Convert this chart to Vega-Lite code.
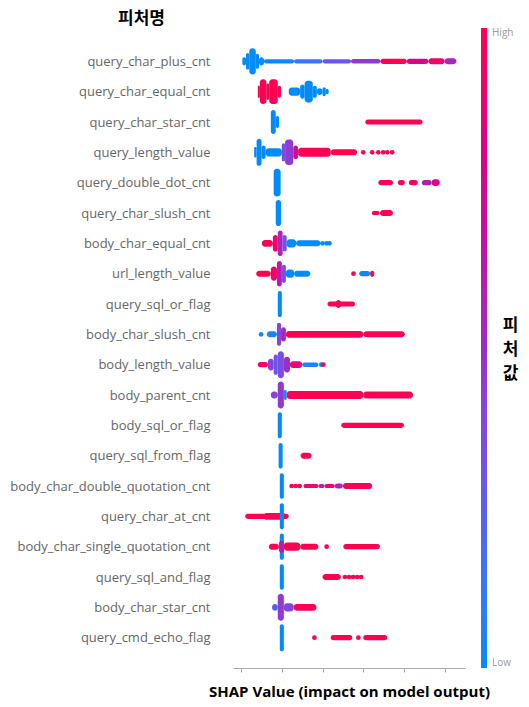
{
  "$schema": "https://vega.github.io/schema/vega-lite/v6.json",
  "autosize": {"type": "none"},
  "padding": {"left": 233, "top": 31, "right": 64, "bottom": 39},
  "width": 232,
  "height": 637,
  "datasets": {
    "seg": [
      {"feature":"query_char_plus_cnt","lo":-0.97,"hi":-0.88,"spread":0.27,"fv":0},
      {"feature":"query_char_plus_cnt","lo":-0.88,"hi":-0.8,"spread":0.55,"fv":0},
      {"feature":"query_char_plus_cnt","lo":-0.8,"hi":-0.64,"spread":0.87,"fv":0},
      {"feature":"query_char_plus_cnt","lo":-0.64,"hi":-0.56,"spread":0.5,"fv":0},
      {"feature":"query_char_plus_cnt","lo":-0.56,"hi":-0.44,"spread":0.27,"fv":0},
      {"feature":"query_char_plus_cnt","lo":-0.44,"hi":0.3,"spread":0.14,"fv":0.02},
      {"feature":"query_char_plus_cnt","lo":0.3,"hi":1.0,"spread":0.14,"fv":0.15},
      {"feature":"query_char_plus_cnt","lo":1.0,"hi":1.7,"spread":0.14,"fv":0.3},
      {"feature":"query_char_plus_cnt","lo":1.7,"hi":2.42,"spread":0.15,"fv":0.45},
      {"feature":"query_char_plus_cnt","lo":2.42,"hi":3.07,"spread":0.17,"fv":1},
      {"feature":"query_char_plus_cnt","lo":3.07,"hi":3.6,"spread":0.18,"fv":0.8},
      {"feature":"query_char_plus_cnt","lo":3.6,"hi":4.0,"spread":0.2,"fv":0.9},
      {"feature":"query_char_plus_cnt","lo":4.0,"hi":4.29,"spread":0.2,"fv":0.55},

      {"feature":"query_char_equal_cnt","lo":-0.59,"hi":-0.54,"spread":0.4,"fv":1},
      {"feature":"query_char_equal_cnt","lo":-0.54,"hi":-0.38,"spread":0.83,"fv":1},
      {"feature":"query_char_equal_cnt","lo":-0.38,"hi":-0.31,"spread":0.55,"fv":1},
      {"feature":"query_char_equal_cnt","lo":-0.31,"hi":-0.1,"spread":0.83,"fv":1},
      {"feature":"query_char_equal_cnt","lo":-0.1,"hi":-0.02,"spread":0.4,"fv":1},
      {"feature":"query_char_equal_cnt","lo":0.17,"hi":0.45,"spread":0.27,"fv":0},
      {"feature":"query_char_equal_cnt","lo":0.45,"hi":0.56,"spread":0.47,"fv":0},
      {"feature":"query_char_equal_cnt","lo":0.56,"hi":0.76,"spread":0.73,"fv":0},
      {"feature":"query_char_equal_cnt","lo":0.76,"hi":0.86,"spread":0.4,"fv":0},
      {"feature":"query_char_equal_cnt","lo":0.86,"hi":1.0,"spread":0.23,"fv":0},
      {"feature":"query_char_equal_cnt","lo":1.0,"hi":1.08,"spread":0.3,"fv":0},
      {"feature":"query_char_equal_cnt","lo":1.08,"hi":1.15,"spread":0.17,"fv":0},

      {"feature":"query_char_star_cnt","lo":-0.27,"hi":-0.15,"spread":0.8,"fv":0},
      {"feature":"query_char_star_cnt","lo":-0.15,"hi":-0.07,"spread":0.4,"fv":0},
      {"feature":"query_char_star_cnt","lo":2.05,"hi":3.46,"spread":0.17,"fv":1},

      {"feature":"query_length_value","lo":-0.68,"hi":-0.62,"spread":0.35,"fv":0},
      {"feature":"query_length_value","lo":-0.62,"hi":-0.5,"spread":0.9,"fv":0},
      {"feature":"query_length_value","lo":-0.5,"hi":-0.4,"spread":0.45,"fv":0},
      {"feature":"query_length_value","lo":-0.4,"hi":0.0,"spread":0.27,"fv":0},
      {"feature":"query_length_value","lo":0.0,"hi":0.08,"spread":0.6,"fv":0.35},
      {"feature":"query_length_value","lo":0.08,"hi":0.28,"spread":0.85,"fv":0.45},
      {"feature":"query_length_value","lo":0.28,"hi":0.4,"spread":0.45,"fv":0.75},
      {"feature":"query_length_value","lo":0.4,"hi":1.2,"spread":0.3,"fv":1},
      {"feature":"query_length_value","lo":1.2,"hi":1.85,"spread":0.2,"fv":1},

      {"feature":"query_double_dot_cnt","lo":-0.2,"hi":-0.03,"spread":0.93,"fv":0},
      {"feature":"query_double_dot_cnt","lo":2.37,"hi":2.73,"spread":0.17,"fv":1},
      {"feature":"query_double_dot_cnt","lo":2.85,"hi":3.02,"spread":0.17,"fv":1},
      {"feature":"query_double_dot_cnt","lo":3.12,"hi":3.34,"spread":0.17,"fv":1},
      {"feature":"query_double_dot_cnt","lo":3.44,"hi":3.68,"spread":0.18,"fv":0.6},
      {"feature":"query_double_dot_cnt","lo":3.68,"hi":3.88,"spread":0.22,"fv":0.8},

      {"feature":"query_char_slush_cnt","lo":-0.15,"hi":-0.02,"spread":0.87,"fv":0},
      {"feature":"query_char_slush_cnt","lo":2.41,"hi":2.73,"spread":0.2,"fv":1},

      {"feature":"body_char_equal_cnt","lo":-0.49,"hi":-0.22,"spread":0.23,"fv":1},
      {"feature":"body_char_equal_cnt","lo":-0.22,"hi":-0.1,"spread":0.55,"fv":0.9},
      {"feature":"body_char_equal_cnt","lo":-0.1,"hi":0.02,"spread":0.85,"fv":0.55},
      {"feature":"body_char_equal_cnt","lo":0.02,"hi":0.12,"spread":0.55,"fv":0.3},
      {"feature":"body_char_equal_cnt","lo":0.12,"hi":0.35,"spread":0.27,"fv":0},
      {"feature":"body_char_equal_cnt","lo":0.35,"hi":0.95,"spread":0.2,"fv":0},

      {"feature":"url_length_value","lo":-0.63,"hi":-0.27,"spread":0.2,"fv":1},
      {"feature":"url_length_value","lo":-0.27,"hi":-0.12,"spread":0.47,"fv":0.9},
      {"feature":"url_length_value","lo":-0.12,"hi":0.0,"spread":0.85,"fv":0.6},
      {"feature":"url_length_value","lo":0.0,"hi":0.1,"spread":0.6,"fv":0.35},
      {"feature":"url_length_value","lo":0.1,"hi":0.3,"spread":0.27,"fv":0},
      {"feature":"url_length_value","lo":0.3,"hi":0.7,"spread":0.2,"fv":0},
      {"feature":"url_length_value","lo":1.9,"hi":2.17,"spread":0.17,"fv":0},
      {"feature":"url_length_value","lo":2.17,"hi":2.27,"spread":0.2,"fv":1},

      {"feature":"query_sql_or_flag","lo":-0.1,"hi":0.0,"spread":0.87,"fv":0},
      {"feature":"query_sql_or_flag","lo":1.12,"hi":1.8,"spread":0.17,"fv":1},
      {"feature":"query_sql_or_flag","lo":1.33,"hi":1.45,"spread":0.27,"fv":1},

      {"feature":"body_char_slush_cnt","lo":-0.37,"hi":-0.12,"spread":0.2,"fv":0.05},
      {"feature":"body_char_slush_cnt","lo":-0.12,"hi":-0.02,"spread":0.77,"fv":0.4},
      {"feature":"body_char_slush_cnt","lo":-0.02,"hi":0.1,"spread":0.47,"fv":0.55},
      {"feature":"body_char_slush_cnt","lo":0.1,"hi":2.0,"spread":0.23,"fv":1},
      {"feature":"body_char_slush_cnt","lo":2.0,"hi":3.02,"spread":0.2,"fv":1},

      {"feature":"body_length_value","lo":-0.59,"hi":-0.34,"spread":0.17,"fv":0.95},
      {"feature":"body_length_value","lo":-0.34,"hi":-0.2,"spread":0.4,"fv":0.4},
      {"feature":"body_length_value","lo":-0.2,"hi":-0.1,"spread":0.67,"fv":0.3},
      {"feature":"body_length_value","lo":-0.1,"hi":0.05,"spread":0.9,"fv":0.35},
      {"feature":"body_length_value","lo":0.05,"hi":0.2,"spread":0.53,"fv":0.5},
      {"feature":"body_length_value","lo":0.2,"hi":0.5,"spread":0.23,"fv":0.85},
      {"feature":"body_length_value","lo":0.5,"hi":0.9,"spread":0.15,"fv":0.05},

      {"feature":"body_parent_cnt","lo":-0.27,"hi":-0.1,"spread":0.23,"fv":0.4},
      {"feature":"body_parent_cnt","lo":-0.1,"hi":0.05,"spread":0.9,"fv":0.45},
      {"feature":"body_parent_cnt","lo":0.05,"hi":0.12,"spread":0.33,"fv":0.05},
      {"feature":"body_parent_cnt","lo":0.12,"hi":2.0,"spread":0.27,"fv":1},
      {"feature":"body_parent_cnt","lo":2.0,"hi":3.22,"spread":0.23,"fv":1},

      {"feature":"body_sql_or_flag","lo":-0.1,"hi":0.0,"spread":0.87,"fv":0},
      {"feature":"body_sql_or_flag","lo":1.46,"hi":3.0,"spread":0.17,"fv":1},

      {"feature":"query_sql_from_flag","lo":-0.08,"hi":0.02,"spread":0.85,"fv":0},
      {"feature":"query_sql_from_flag","lo":0.46,"hi":0.73,"spread":0.2,"fv":1},

      {"feature":"body_char_double_quotation_cnt","lo":-0.05,"hi":0.05,"spread":0.85,"fv":0},
      {"feature":"body_char_double_quotation_cnt","lo":0.53,"hi":0.9,"spread":0.14,"fv":0.9},
      {"feature":"body_char_double_quotation_cnt","lo":0.9,"hi":1.05,"spread":0.14,"fv":0.55},
      {"feature":"body_char_double_quotation_cnt","lo":1.05,"hi":1.3,"spread":0.14,"fv":0.9},
      {"feature":"body_char_double_quotation_cnt","lo":1.3,"hi":1.5,"spread":0.17,"fv":0.55},
      {"feature":"body_char_double_quotation_cnt","lo":1.5,"hi":2.22,"spread":0.2,"fv":1},

      {"feature":"query_char_at_cnt","lo":-0.9,"hi":0.17,"spread":0.17,"fv":1},
      {"feature":"query_char_at_cnt","lo":-0.45,"hi":0.1,"spread":0.23,"fv":1},
      {"feature":"query_char_at_cnt","lo":-0.05,"hi":0.05,"spread":0.87,"fv":0},

      {"feature":"body_char_single_quotation_cnt","lo":-0.05,"hi":0.05,"spread":0.87,"fv":0},
      {"feature":"body_char_single_quotation_cnt","lo":-0.32,"hi":-0.07,"spread":0.2,"fv":1},
      {"feature":"body_char_single_quotation_cnt","lo":-0.07,"hi":0.05,"spread":0.4,"fv":0.6},
      {"feature":"body_char_single_quotation_cnt","lo":0.05,"hi":0.45,"spread":0.27,"fv":1},
      {"feature":"body_char_single_quotation_cnt","lo":0.45,"hi":0.9,"spread":0.2,"fv":1},
      {"feature":"body_char_single_quotation_cnt","lo":1.51,"hi":2.41,"spread":0.17,"fv":1},

      {"feature":"query_sql_and_flag","lo":-0.05,"hi":0.05,"spread":0.85,"fv":0},
      {"feature":"query_sql_and_flag","lo":1.0,"hi":1.45,"spread":0.2,"fv":1},

      {"feature":"body_char_star_cnt","lo":-0.24,"hi":-0.1,"spread":0.23,"fv":0.25},
      {"feature":"body_char_star_cnt","lo":-0.1,"hi":0.05,"spread":0.9,"fv":0.45},
      {"feature":"body_char_star_cnt","lo":0.05,"hi":0.29,"spread":0.27,"fv":0.4},
      {"feature":"body_char_star_cnt","lo":0.29,"hi":0.85,"spread":0.23,"fv":1},

      {"feature":"query_cmd_echo_flag","lo":-0.05,"hi":0.05,"spread":0.9,"fv":0},
      {"feature":"query_cmd_echo_flag","lo":1.2,"hi":1.73,"spread":0.17,"fv":1},
      {"feature":"query_cmd_echo_flag","lo":2.0,"hi":2.59,"spread":0.17,"fv":1}
    ],
    "dot": [
      {"feature":"query_length_value","shap":2.0,"fv":1},
      {"feature":"query_length_value","shap":2.22,"fv":1},
      {"feature":"query_length_value","shap":2.37,"fv":1},
      {"feature":"query_length_value","shap":2.49,"fv":1},
      {"feature":"query_length_value","shap":2.59,"fv":1},
      {"feature":"query_length_value","shap":2.71,"fv":1},
      {"feature":"query_char_slush_cnt","shap":2.27,"fv":1},
      {"feature":"query_char_slush_cnt","shap":2.34,"fv":1},
      {"feature":"body_char_equal_cnt","shap":1.0,"fv":0},
      {"feature":"body_char_equal_cnt","shap":1.1,"fv":0},
      {"feature":"body_char_equal_cnt","shap":1.17,"fv":0},
      {"feature":"url_length_value","shap":1.76,"fv":1},
      {"feature":"body_char_slush_cnt","shap":-0.51,"fv":0},
      {"feature":"body_length_value","shap":0.97,"fv":0},
      {"feature":"body_length_value","shap":1.02,"fv":1},
      {"feature":"body_char_double_quotation_cnt","shap":0.24,"fv":1},
      {"feature":"body_char_double_quotation_cnt","shap":0.34,"fv":1},
      {"feature":"body_char_double_quotation_cnt","shap":0.44,"fv":1},
      {"feature":"body_char_single_quotation_cnt","shap":1.1,"fv":1},
      {"feature":"query_sql_and_flag","shap":1.55,"fv":1},
      {"feature":"query_sql_and_flag","shap":1.65,"fv":1},
      {"feature":"query_sql_and_flag","shap":1.75,"fv":1},
      {"feature":"query_sql_and_flag","shap":1.85,"fv":1},
      {"feature":"query_sql_and_flag","shap":1.95,"fv":1},
      {"feature":"query_cmd_echo_flag","shap":0.8,"fv":1},
      {"feature":"query_cmd_echo_flag","shap":1.88,"fv":1}
    ]
  },
  "layer": [
    {
      "mark": {"type": "rule", "color": "#b0b0b0", "strokeWidth": 1.5},
      "encoding": {"x": {"datum": 0, "type": "quantitative"}}
    },
    {
      "data": {"name": "seg"},
      "mark": {"type": "bar", "cornerRadius": 3},
      "encoding": {
        "y": {
          "field": "feature",
          "type": "nominal",
          "sort": ["query_char_plus_cnt","query_char_equal_cnt","query_char_star_cnt","query_length_value","query_double_dot_cnt","query_char_slush_cnt","body_char_equal_cnt","url_length_value","query_sql_or_flag","body_char_slush_cnt","body_length_value","body_parent_cnt","body_sql_or_flag","query_sql_from_flag","body_char_double_quotation_cnt","query_char_at_cnt","body_char_single_quotation_cnt","query_sql_and_flag","body_char_star_cnt","query_cmd_echo_flag"],
          "scale": {"type": "point", "padding": 1},
          "axis": {
            "title": "피처명", "titleAngle": 0, "titleX": -92, "titleY": -13,
            "titleAlign": "center", "titleBaseline": "middle",
            "titleFont": "Noto Sans CJK KR", "titleFontSize": 17, "titleFontWeight": "bold", "titleColor": "#000",
            "domain": false, "ticks": false, "grid": false, "labelLimit": 400,
            "labelPadding": 23, "labelFontSize": 13, "labelFont": "Open Sans", "labelColor": "#666"
          }
        },
        "x": {
          "field": "lo",
          "type": "quantitative",
          "scale": {"domain": [-1.2, 4.5], "nice": false, "zero": false},
          "axis": {
            "title": "SHAP Value (impact on model output)",
            "values": [-1, 0, 1, 2, 3, 4], "labels": false, "ticks": true, "tickSize": 4,
            "tickColor": "#aaaaaa", "domainColor": "#aaaaaa", "grid": false,
            "titleFont": "Open Sans", "titleFontSize": 15, "titleFontWeight": "bold", "titleColor": "#000", "titlePadding": 12
          }
        },
        "x2": {"field": "hi"},
        "size": {"field": "spread", "type": "quantitative", "scale": {"domain": [0, 1], "range": [0, 30]}, "legend": null},
        "color": {
          "field": "fv",
          "type": "quantitative",
          "scale": {"domain": [0, 0.25, 0.5, 0.75, 1], "range": ["#008bfb", "#5b5df2", "#9a2ec6", "#d20a92", "#ff0052"]},
          "legend": {
            "title": null, "orient": "none", "legendX": 248, "legendY": -3, "direction": "vertical",
            "gradientLength": 640, "gradientThickness": 6, "gradientStrokeWidth": 0,
            "values": [0, 1], "labelExpr": "datum.value >= 1 ? 'High' : 'Low'",
            "labelFontSize": 10, "labelColor": "#999", "labelFont": "Open Sans", "labelOffset": 5
          }
        }
      }
    },
    {
      "data": {"name": "dot"},
      "mark": {"type": "circle", "size": 22, "opacity": 1},
      "encoding": {
        "y": {
          "field": "feature",
          "type": "nominal",
          "sort": ["query_char_plus_cnt","query_char_equal_cnt","query_char_star_cnt","query_length_value","query_double_dot_cnt","query_char_slush_cnt","body_char_equal_cnt","url_length_value","query_sql_or_flag","body_char_slush_cnt","body_length_value","body_parent_cnt","body_sql_or_flag","query_sql_from_flag","body_char_double_quotation_cnt","query_char_at_cnt","body_char_single_quotation_cnt","query_sql_and_flag","body_char_star_cnt","query_cmd_echo_flag"],
          "axis": {
            "orient": "right", "title": ["피", "처", "값"], "titleAngle": 0, "titleX": 45, "titleY": 294,
            "titleAlign": "center", "titleBaseline": "middle", "titleLineHeight": 24,
            "titleFont": "Noto Sans CJK KR", "titleFontSize": 17, "titleFontWeight": "bold", "titleColor": "#000",
            "labels": false, "domain": false, "ticks": false, "grid": false
          }
        },
        "x": {"field": "shap", "type": "quantitative"},
        "color": {"field": "fv", "type": "quantitative", "legend": null}
      }
    }
  ],
  "resolve": {"axis": {"y": "independent"}},
  "config": {"view": {"stroke": null}}
}
